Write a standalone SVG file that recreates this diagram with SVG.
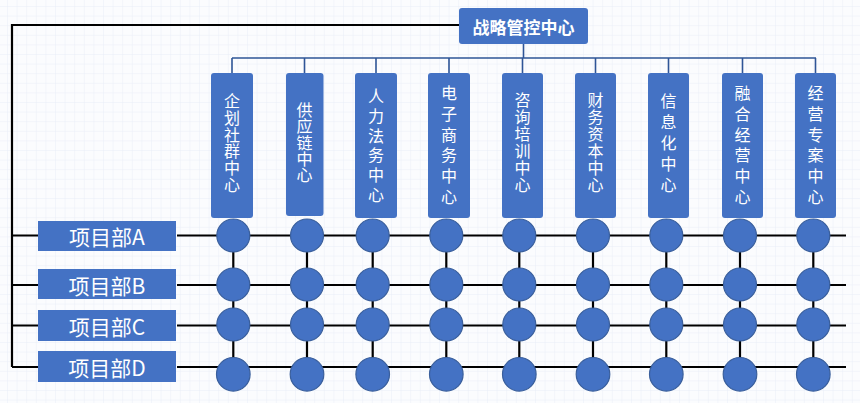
<svg xmlns="http://www.w3.org/2000/svg" width="860" height="403" viewBox="0 0 860 403">
<defs>
<pattern id="grid" width="9.6" height="9.6" patternUnits="userSpaceOnUse" x="7" y="6">
<path d="M0 0H9.6M0 0V9.6" fill="none" stroke="#e9eef8" stroke-width="1"/>
</pattern>
<style>
.bg{fill:#fbfcfe}
.box{fill:#4472c4}
.col{fill:#4472c4}
.node{fill:#4472c4;stroke:#3a5f9c;stroke-width:1.2}
.blk{fill:none;stroke:#000;stroke-width:2.2}
.blu{fill:none;stroke:#2f5597;stroke-width:1.6}
.t{font-family:"Noto Sans CJK SC","Noto Sans",sans-serif;fill:#fff;text-anchor:middle;dominant-baseline:central}
.v{font-family:"Noto Sans CJK SC","Noto Sans",sans-serif;fill:#fff;font-size:16px;writing-mode:vertical-rl;text-orientation:upright;text-anchor:start}
.lt{font-size:21px}
.tt{font-size:17px;font-weight:bold}
</style>
</defs>
<rect class="bg" x="0" y="0" width="860" height="403"/>
<rect x="0" y="0" width="860" height="403" fill="url(#grid)"/>

<g id="connectors">
<path class="blk" d="M459 25H12V367"/>
<path class="blk" d="M12 235.5H38M177 235.5H846"/>
<path class="blk" d="M12 285H38M177 285H846"/>
<path class="blk" d="M12 325.5H38M177 325.5H846"/>
<path class="blk" d="M12 367H38M177 367H846"/>
<path class="blk" d="M233.3 236V374M307 236V374M372.7 236V374M446.3 236V374M519.3 236V374M593 236V374M666.3 236V374M740 236V374M813.3 236V374"/>
<path class="blu" d="M523.5 44V58M232 58H816M232 58V73M304.5 58V73M376 58V73M449 58V73M522.5 58V73M595.5 58V73M668.5 58V73M742.5 58V73M815.5 58V73"/>
</g>

<g id="top">
<rect class="box" x="459" y="8" width="129" height="36" rx="3"/>
<text class="t tt" x="523.5" y="26">战略管控中心</text>
</g>

<g id="c1"><rect class="col" x="211" y="73" width="42" height="145" rx="3"/>
<text class="v" x="232" y="93" style="letter-spacing:0.8px">企划社群中心</text></g>
<g id="c2"><rect class="col" x="286" y="73" width="37.5" height="143" rx="3"/>
<text class="v" x="304.5" y="102" style="letter-spacing:0.25px">供应链中心</text></g>
<g id="c3"><rect class="col" x="355" y="73" width="42" height="145" rx="3"/>
<text class="v" x="376" y="88" style="letter-spacing:3.8px">人力法务中心</text></g>
<g id="c4"><rect class="col" x="428" y="73" width="42" height="145" rx="3"/>
<text class="v" x="449" y="85" style="letter-spacing:4.8px">电子商务中心</text></g>
<g id="c5"><rect class="col" x="502" y="73" width="41" height="145" rx="3"/>
<text class="v" x="522.5" y="92" style="letter-spacing:1px">咨询培训中心</text></g>
<g id="c6"><rect class="col" x="575" y="73" width="41" height="145" rx="3"/>
<text class="v" x="595.5" y="92" style="letter-spacing:1px">财务资本中心</text></g>
<g id="c7"><rect class="col" x="648" y="73" width="41" height="145" rx="3"/>
<text class="v" x="668.5" y="93" style="letter-spacing:5px">信息化中心</text></g>
<g id="c8"><rect class="col" x="722" y="73" width="41" height="145" rx="3"/>
<text class="v" x="742.5" y="85" style="letter-spacing:4.8px">融合经营中心</text></g>
<g id="c9"><rect class="col" x="795" y="73" width="41" height="145" rx="3"/>
<text class="v" x="815.5" y="85" style="letter-spacing:4.8px">经营专案中心</text></g>

<g id="pA"><rect class="box" x="38" y="221" width="138" height="30"/><text class="t lt" x="107" y="236">项目部A</text></g>
<g id="pB"><rect class="box" x="38" y="269" width="138" height="30"/><text class="t lt" x="107" y="284.5">项目部B</text></g>
<g id="pC"><rect class="box" x="38" y="310" width="138" height="31"/><text class="t lt" x="107" y="325.5">项目部C</text></g>
<g id="pD"><rect class="box" x="38" y="351" width="138" height="31"/><text class="t lt" x="107" y="366.5">项目部D</text></g>

<g id="nodes">
<g id="rowA">
<circle class="node" cx="233.3" cy="235.5" r="16.5"/><circle class="node" cx="307" cy="235.5" r="16.5"/><circle class="node" cx="372.7" cy="235.5" r="16.5"/><circle class="node" cx="446.3" cy="235.5" r="16.5"/><circle class="node" cx="519.3" cy="235.5" r="16.5"/><circle class="node" cx="593" cy="235.5" r="16.5"/><circle class="node" cx="666.3" cy="235.5" r="16.5"/><circle class="node" cx="740" cy="235.5" r="16.5"/><circle class="node" cx="813.3" cy="235.5" r="16.5"/>
</g>
<g id="rowB">
<circle class="node" cx="233.3" cy="284.5" r="16.5"/><circle class="node" cx="307" cy="284.5" r="16.5"/><circle class="node" cx="372.7" cy="284.5" r="16.5"/><circle class="node" cx="446.3" cy="284.5" r="16.5"/><circle class="node" cx="519.3" cy="284.5" r="16.5"/><circle class="node" cx="593" cy="284.5" r="16.5"/><circle class="node" cx="666.3" cy="284.5" r="16.5"/><circle class="node" cx="740" cy="284.5" r="16.5"/><circle class="node" cx="813.3" cy="284.5" r="16.5"/>
</g>
<g id="rowC">
<circle class="node" cx="233.3" cy="324.5" r="16.5"/><circle class="node" cx="307" cy="324.5" r="16.5"/><circle class="node" cx="372.7" cy="324.5" r="16.5"/><circle class="node" cx="446.3" cy="324.5" r="16.5"/><circle class="node" cx="519.3" cy="324.5" r="16.5"/><circle class="node" cx="593" cy="324.5" r="16.5"/><circle class="node" cx="666.3" cy="324.5" r="16.5"/><circle class="node" cx="740" cy="324.5" r="16.5"/><circle class="node" cx="813.3" cy="324.5" r="16.5"/>
</g>
<g id="rowD">
<circle class="node" cx="233.3" cy="374.3" r="16.8"/><circle class="node" cx="307" cy="374.3" r="16.8"/><circle class="node" cx="372.7" cy="374.3" r="16.8"/><circle class="node" cx="446.3" cy="374.3" r="16.8"/><circle class="node" cx="519.3" cy="374.3" r="16.8"/><circle class="node" cx="593" cy="374.3" r="16.8"/><circle class="node" cx="666.3" cy="374.3" r="16.8"/><circle class="node" cx="740" cy="374.3" r="16.8"/><circle class="node" cx="813.3" cy="374.3" r="16.8"/>
</g>
</g>
</svg>
